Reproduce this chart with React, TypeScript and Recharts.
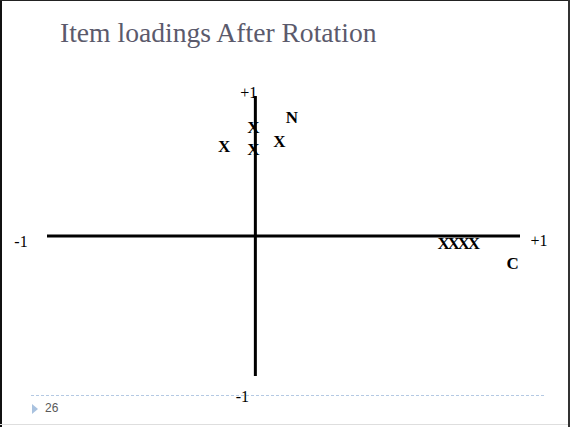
import React from "react";
import { ReferenceLine, Scatter, ScatterChart, XAxis, YAxis } from "recharts";

// item loadings (x = factor C, y = factor N)
const itemLabels = ["X", "X", "X", "X", "X", "X", "X", "X"];
const itemC = [-0.15, -0.01, -0.01, 0.115, 0.903, 0.952, 1.0, 1.049];
const itemN = [0.64, 0.78, 0.62, 0.68, -0.048, -0.048, -0.048, -0.048];

// factor names drawn next to the axes
const factorNames = ["N", "C"];
const factorC = [0.175, 1.235];
const factorN = [0.85, -0.19];

const axisMin = "-1";
const axisMax = "+1";
const slideNumber = "26";

const items = itemLabels.map((label, i) => ({ label, x: itemC[i], y: itemN[i] }));
const factors = factorNames.map((label, i) => ({ label, x: factorC[i], y: factorN[i] }));

const serif = "'Liberation Serif', 'Times New Roman', serif";

const markText = (props: any) => (
  <text
    x={props.cx}
    y={props.cy}
    dy='0.35em'
    textAnchor='middle'
    fontFamily={serif}
    fontWeight='bold'
    fontSize={17}
    fill='#000'
  >
    {props.payload.label}
  </text>
);

const endLabel = { fontFamily: serif, fontSize: 16, fill: "#000" };

const horizontalEnds = (props: any) => {
  const { x, y, width } = props.viewBox;
  const left = Math.min(x, x + width);
  const right = Math.max(x, x + width);
  return (
    <g>
      <text x={left - 26} y={y + 11} textAnchor='middle' {...endLabel}>
        {axisMin}
      </text>
      <text x={right + 19} y={y + 10} textAnchor='middle' {...endLabel}>
        {axisMax}
      </text>
    </g>
  );
};

const verticalEnds = (props: any) => {
  const { x, y, height } = props.viewBox;
  const top = Math.min(y, y + height);
  const bottom = Math.max(y, y + height);
  return (
    <g>
      <text x={x - 6.5} y={top + 1.5} textAnchor='middle' {...endLabel}>
        {axisMax}
      </text>
      <text x={x - 13} y={bottom + 26} textAnchor='middle' {...endLabel}>
        {axisMin}
      </text>
    </g>
  );
};

export default function App() {
  return (
    <div
      style={{
        position: "absolute",
        left: 0,
        top: 0,
        width: 571,
        height: 427,
        background: "#fff",
        overflow: "hidden",
      }}
    >
      {/* slide frame */}
      <div style={{ position: "absolute", left: 0, top: 0, width: 2, height: 427, background: "#111" }} />
      <div style={{ position: "absolute", left: 0, top: 0, width: 570, height: 1, background: "#222" }} />
      <div style={{ position: "absolute", left: 568, top: 0, width: 2, height: 427, background: "#333" }} />
      <div style={{ position: "absolute", left: 0, top: 424, width: 568, height: 1, background: "#dedede" }} />

      <div
        style={{
          position: "absolute",
          left: 60,
          top: 17,
          fontFamily: serif,
          fontSize: 27.6,
          lineHeight: "32px",
          color: "#5b5a6c",
          whiteSpace: "nowrap",
        }}
      >
        Item loadings After Rotation
      </div>

      <svg
        width={571}
        height={427}
        style={{ position: "absolute", left: 0, top: 0 }}
      >
        <line x1={31} y1={395.5} x2={545} y2={395.5} stroke='#b4c9e3' strokeWidth={1} strokeDasharray='3 2' />
        <polygon points='32,404 38,409 32,414' fill='#a9c2df' />
        <text x={45} y={412} fontFamily='Arial, Liberation Sans, sans-serif' fontSize={12} fill='#595959'>
          {slideNumber}
        </text>
      </svg>

      <div style={{ position: "absolute", left: 0, top: 0 }}>
        <ScatterChart
          width={571}
          height={427}
          margin={{ top: 96, right: 51, bottom: 51, left: 47 }}
        >
          <XAxis type='number' dataKey='x' domain={[-1, 1.27]} allowDataOverflow hide />
          <YAxis type='number' dataKey='y' domain={[-1, 1]} allowDataOverflow hide />
          <ReferenceLine y={0} stroke='#000' strokeWidth={3} label={horizontalEnds} />
          <ReferenceLine x={0} stroke='#000' strokeWidth={3} label={verticalEnds} />
          <Scatter data={items} shape={markText} isAnimationActive={false} />
          <Scatter data={factors} shape={markText} isAnimationActive={false} />
        </ScatterChart>
      </div>
    </div>
  );
}
